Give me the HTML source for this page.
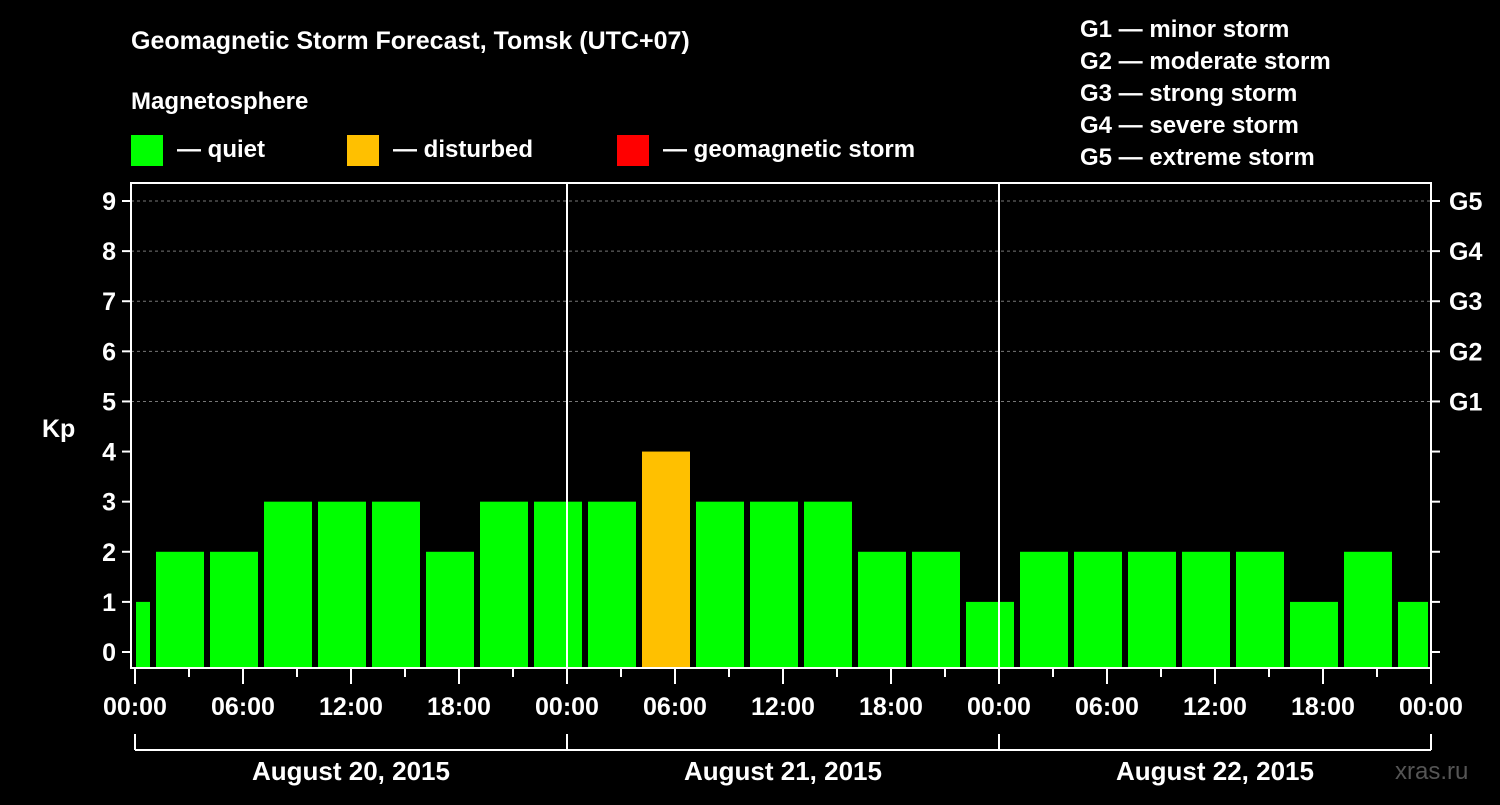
<!DOCTYPE html>
<html><head><meta charset="utf-8"><style>
body{margin:0;background:#000;}
svg text{font-family:"Liberation Sans",Arial,sans-serif;font-weight:bold;fill:#fff;}
</style></head><body>
<svg id="c" width="1500" height="800" xmlns="http://www.w3.org/2000/svg">
<rect width="1500" height="800" fill="#000"/>
<text x="131" y="49" font-size="25">Geomagnetic Storm Forecast, Tomsk (UTC+07)</text>
<text x="131" y="109" font-size="24">Magnetosphere</text>
<g><rect x="131" y="135" width="32" height="31" fill="#00ff00"/><text x="177" y="157" font-size="24">— quiet</text></g>
<g><rect x="347" y="135" width="32" height="31" fill="#ffc000"/><text x="393" y="157" font-size="24">— disturbed</text></g>
<g><rect x="617" y="135" width="32" height="31" fill="#ff0000"/><text x="663" y="157" font-size="24">— geomagnetic storm</text></g>
<g font-size="24">
<text x="1080" y="37">G1 — minor storm</text>
<text x="1080" y="69">G2 — moderate storm</text>
<text x="1080" y="101">G3 — strong storm</text>
<text x="1080" y="133">G4 — severe storm</text>
<text x="1080" y="165">G5 — extreme storm</text>
</g>
<text x="42" y="437" font-size="25">Kp</text>
<text x="1395" y="779" font-size="24" fill="#555" style="fill:#555;font-weight:normal">xras.ru</text>
<g id="plot"></g>
</svg>
<script>
const kpValues=[1,2,2,3,3,3,2,3,3,3,4,3,3,3,2,2,1,2,2,2,2,2,1,2,1];
const yTicks=[0,1,2,3,4,5,6,7,8,9];
const gLabels=["G1","G2","G3","G4","G5"];
const timeLabels=["00:00","06:00","12:00","18:00","00:00","06:00","12:00","18:00","00:00","06:00","12:00","18:00","00:00"];
const dateLabels=["August 20, 2015","August 21, 2015","August 22, 2015"];
const NS="http://www.w3.org/2000/svg";
const L=131,R=1431,T=183,B=668,X0=135;
const xh=h=>X0+h*18;
const y=v=>652-v*50.11;
const g=document.getElementById('plot');
function mk(t,a,p){const e=document.createElementNS(NS,t);for(const k in a)e.setAttribute(k,a[k]);(p||g).appendChild(e);return e;}
// grid
for(let v=5;v<=9;v++){mk('line',{x1:L,x2:R,y1:y(v),y2:y(v),stroke:'#777','stroke-dasharray':'3,3'});}
// bars
kpValues.forEach((v,i)=>{
 const h0=i===0?0:1+3*(i-1); const h1=Math.min(72,1+3*i);
 const x0=i===0?xh(0)+1:xh(h0)+3, x1=xh(h1)-3;
 const col=v>=5?'#ff0000':(v>=4?'#ffc000':'#00ff00');
 const r=mk('rect',{x:x0,y:y(v),width:x1-x0,height:B-y(v),fill:col});
 
 
});
// day separators
[24,48].forEach(h=>mk('line',{x1:xh(h),x2:xh(h),y1:T,y2:B,stroke:'#fff','stroke-width':2}));
// frame
mk('rect',{x:L,y:T,width:R-L,height:B-T,fill:'none',stroke:'#fff','stroke-width':2});
// y ticks
yTicks.forEach(v=>{
 mk('line',{x1:L-9,x2:L,y1:y(v),y2:y(v),stroke:'#fff','stroke-width':2});
 mk('line',{x1:R,x2:R+9,y1:y(v),y2:y(v),stroke:'#fff','stroke-width':2});
 const t=mk('text',{x:L-15,y:y(v)+9,'font-size':25,'text-anchor':'end'});t.textContent=v;
 
 
});
gLabels.forEach((s,i)=>{const t=mk('text',{x:1449,y:y(5+i)+9,'font-size':25});t.textContent=s;
 
 });
// x ticks
for(let h=0;h<=72;h+=3){const major=h%6===0;mk('line',{x1:xh(h),x2:xh(h),y1:B,y2:B+(major?16:9),stroke:'#fff','stroke-width':2});}
timeLabels.forEach((s,i)=>{const t=mk('text',{x:xh(i*6),y:715,'font-size':25,'text-anchor':'middle'});t.textContent=s;
 
 });
// date bracket
mk('line',{x1:xh(0),x2:xh(72),y1:750,y2:750,stroke:'#fff','stroke-width':2});
[0,24,48,72].forEach(h=>mk('line',{x1:xh(h),x2:xh(h),y1:734,y2:750,stroke:'#fff','stroke-width':2}));
dateLabels.forEach((s,i)=>{const t=mk('text',{x:xh(i*24+12),y:780,'font-size':26,'text-anchor':'middle'});t.textContent=s;
 
 });
</script>
</body></html>
